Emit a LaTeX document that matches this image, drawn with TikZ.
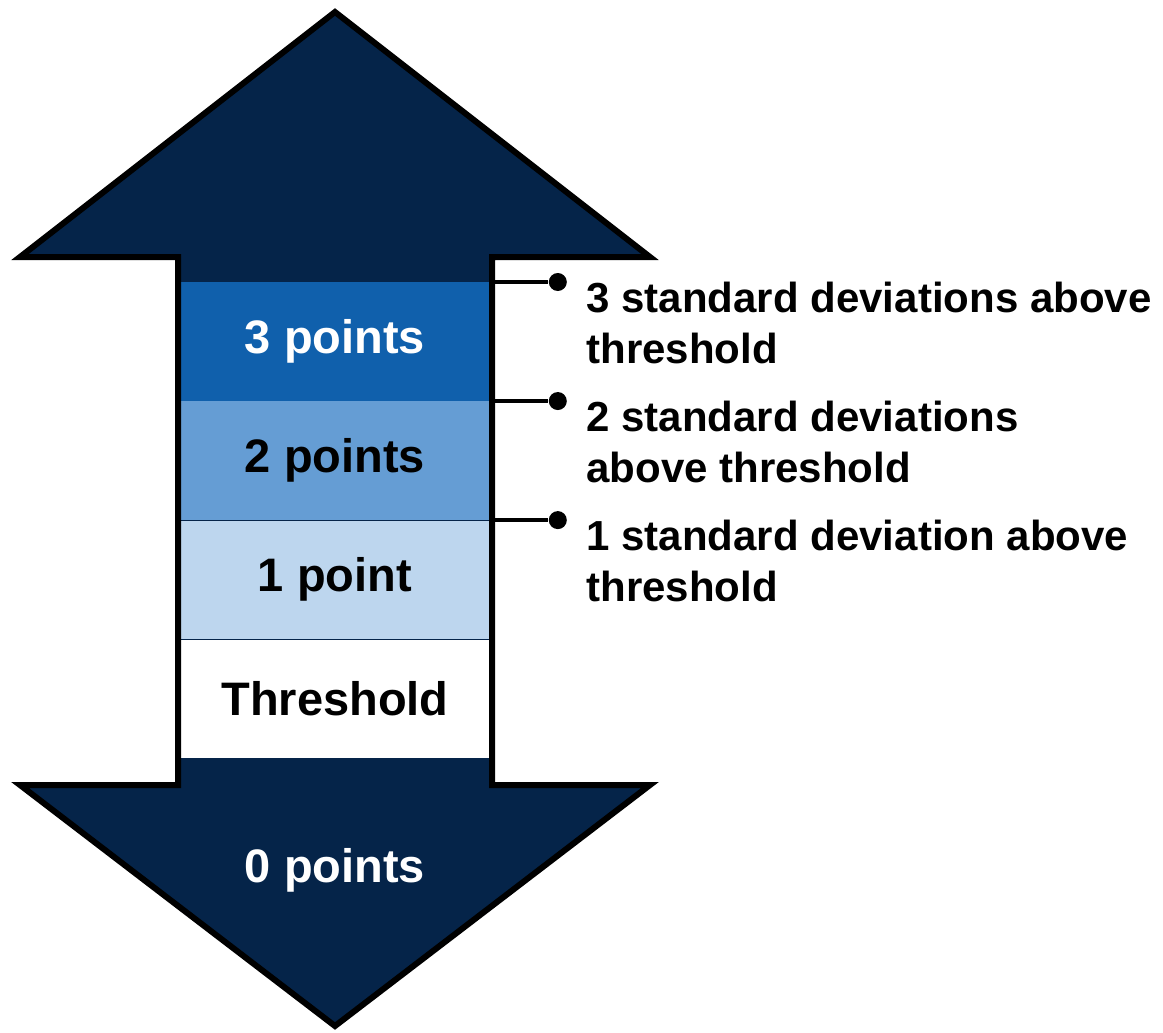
\documentclass[tikz,border=0pt]{standalone}
\usepackage{fontspec}
\setmainfont{Liberation Sans}
\usetikzlibrary{positioning}

\definecolor{navy}{HTML}{052449}
\definecolor{bandthree}{HTML}{1060AC}
\definecolor{bandtwo}{HTML}{659DD4}
\definecolor{bandone}{HTML}{BDD6EE}

% outline of the double arrow, in pixel units
\newcommand{\arrowoutline}{(335,12) -- (650,257) -- (492,257) -- (492,785) -- (650,785)
  -- (335,1026) -- (20,785) -- (178,785) -- (178,257) -- (20,257) -- cycle}

\begin{document}
\begin{tikzpicture}[
    x=0.5pt, y=-0.5pt,
    band/.style={rectangle, minimum width=157pt, minimum height=59.125pt, inner sep=0pt, font=\bfseries\fontsize{23.5}{28}\selectfont},
    note/.style={inner sep=0pt, align=left, font=\bfseries\fontsize{21}{25.5}\selectfont},
    tick/.style={line width=2pt},
    dot/.style={circle, fill=black, inner sep=0pt, minimum size=9pt}
]
\useasboundingbox (0,0) rectangle (1163,1033);

% Arrow body
\fill[navy] \arrowoutline;

% Score bands
\node[band, fill=bandthree, text=white, anchor=north] (b3) at (335,282) {3 points};
\node[band, fill=bandtwo, below=0pt of b3] (b2) {2 points};
\node[band, fill=bandone, below=0pt of b2] (b1) {1 point};
\node[band, fill=white, below=0pt of b1] (thr) {Threshold};
\node[band, text=white] (b0) at (335,870) {0 points};

% Arrow outline on top
\draw[line width=3pt] \arrowoutline;

% Markers
\node[dot, right=28pt of b3.north east] (d3) {};
\node[dot, right=28pt of b2.north east] (d2) {};
\node[dot, right=28pt of b1.north east] (d1) {};
\draw[tick] (b3.north east) -- (d3);
\draw[tick] (b2.north east) -- (d2);
\draw[tick] (b1.north east) -- (d1);

% Labels
\node[note, right=9.5pt of d3, anchor=north west] (n3) {3 standard deviations above\\threshold};
\node[note, right=9.5pt of d2, anchor=north west] (n2) {2 standard deviations\\above threshold};
\node[note, right=9.5pt of d1, anchor=north west] (n1) {1 standard deviation above\\threshold};

\end{tikzpicture}
\end{document}
